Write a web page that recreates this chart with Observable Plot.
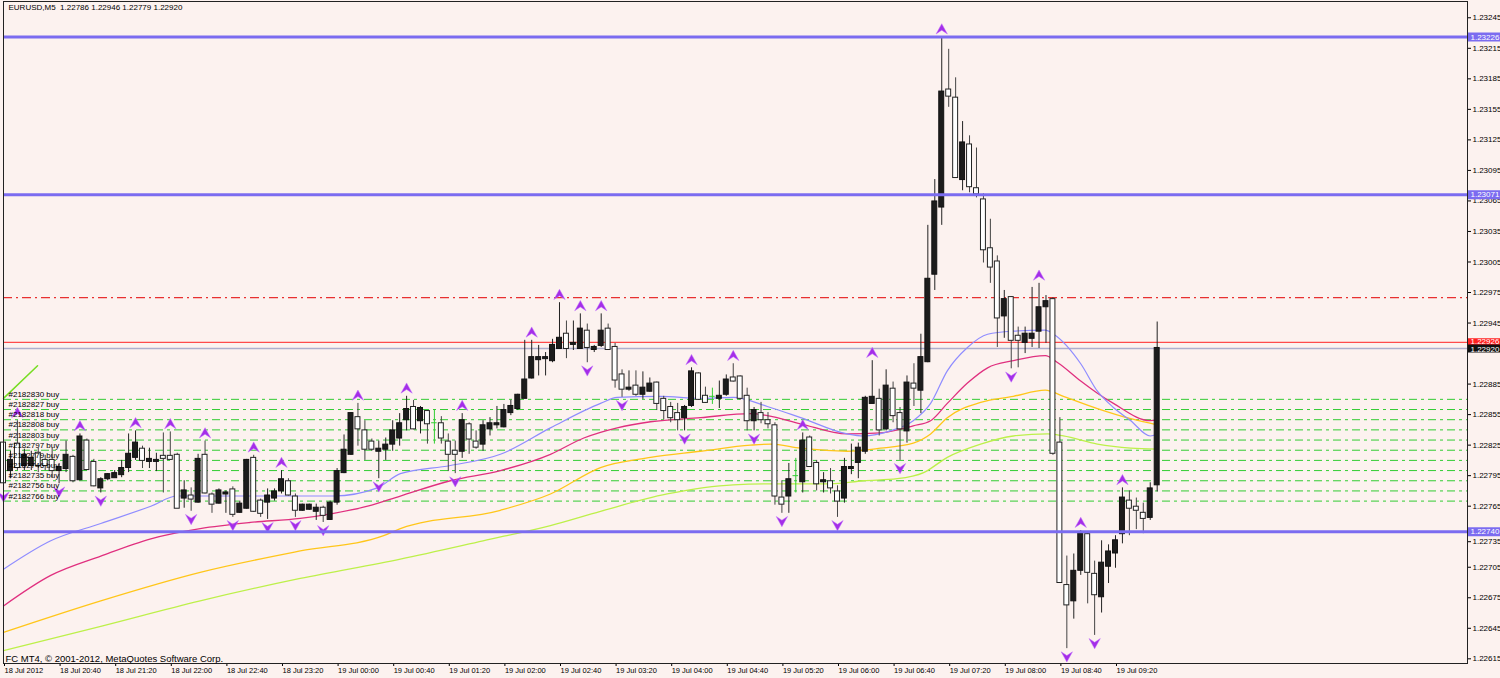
<!DOCTYPE html>
<html><head><meta charset="utf-8">
<script src="https://cdn.jsdelivr.net/npm/d3@7"></script>
<script src="https://cdn.jsdelivr.net/npm/@observablehq/plot@0.6"></script>
<style>
html,body{margin:0;padding:0;background:#fcf2ef;overflow:hidden}
#chart svg{display:block}
</style></head><body><div id="chart"></div>
<script>
// ---------- DATA (prices in points, 1 point = 0.00001) ----------
const symbolName = "EURUSD,M5";
const lastOHLC = [1.22786, 1.22946, 1.22779, 1.22920];
const caption = "FC MT4, \u00a9 2001-2012, MetaQuotes Software Corp.";

const openP = [122827,122800,122826,122805,122805,122817,122810,122810,122800,122802,122813,122791,122829,122808,122783,122792,122793,122796,122803,122813,122821,122809,122809,122814,122814,122815,122773,122775,122769,122815,122776,122768,122777,122781,122759,122763,122812,122770,122769,122773,122780,122789,122774,122761,122762,122760,122763,122752,122769,122798,122816,122852,122839,122828,122819,122821,122826,122832,122850,122862,122849,122858,122847,122846,122828,122819,122819,122845,122828,122826,122841,122845,122843,122857,122861,122871,122891,122909,122910,122908,122920,122934,122924,122920,122937,122919,122923,122939,122921,122894,122880,122883,122875,122878,122886,122870,122862,122856,122852,122864,122895,122873,122873,122871,122875,122891,122892,122873,122849,122856,122849,122844,122773,122775,122795,122789,122832,122807,122789,122789,122779,122773,122802,122808,122819,122866,122870,122841,122880,122856,122839,122885,122879,122907,122993,123059,123174,123166,123086,123120,123077,123066,123018,123005,122952,122970,122932,122926,122930,122937,122961,122968,122827,122687,122672,122702,122737,122698,122676,122706,122719,122738,122770,122764,122758,122754,122786];
const highP = [122831,122819,122849,122821,122819,122822,122815,122822,122807,122829,122815,122836,122831,122811,122793,122797,122800,122810,122836,122839,122824,122822,122817,122837,122838,122817,122790,122783,122816,122829,122778,122782,122780,122784,122770,122811,122815,122772,122782,122782,122800,122792,122777,122767,122767,122767,122765,122770,122802,122835,122857,122866,122849,122831,122829,122832,122849,122856,122873,122869,122863,122859,122860,122853,122836,122829,122856,122847,122839,122849,122852,122863,122865,122869,122875,122928,122928,122923,122916,122929,122965,122947,122947,122954,122944,122923,122954,122944,122925,122899,122898,122898,122897,122891,122887,122873,122867,122866,122864,122901,122896,122882,122881,122888,122894,122905,122893,122881,122862,122867,122857,122847,122790,122807,122812,122837,122834,122810,122798,122802,122785,122812,122826,122827,122873,122908,122880,122899,122887,122862,122893,122905,122934,123041,123086,123226,123214,123186,123143,123129,123117,123072,123047,123011,122977,122971,122941,122941,122980,122984,122972,122970,122852,122716,122718,122741,122738,122711,122731,122727,122736,122783,122780,122773,122768,122788,122946];
const lowP = [122782,122792,122800,122800,122800,122798,122800,122793,122787,122798,122788,122790,122800,122784,122778,122790,122793,122793,122798,122810,122802,122802,122799,122778,122810,122763,122763,122760,122768,122777,122758,122767,122758,122754,122758,122762,122759,122754,122752,122770,122777,122775,122754,122760,122761,122751,122749,122751,122766,122797,122815,122824,122810,122819,122792,122810,122819,122824,122839,122840,122836,122826,122826,122826,122799,122797,122812,122816,122821,122819,122834,122841,122842,122854,122859,122871,122890,122893,122893,122906,122920,122910,122918,122920,122906,122916,122921,122918,122881,122872,122878,122873,122870,122877,122859,122850,122847,122839,122839,122862,122869,122866,122865,122861,122873,122887,122869,122839,122839,122846,122841,122766,122758,122758,122778,122778,122803,122780,122778,122777,122754,122768,122796,122792,122816,122866,122834,122839,122847,122810,122827,122863,122856,122906,122977,123041,123157,123088,123075,123073,123068,123004,122984,122921,122930,122900,122901,122915,122921,122920,122925,122815,122689,122625,122654,122697,122669,122638,122660,122689,122704,122728,122736,122742,122738,122751,122779];
const closeP = [122788,122810,122803,122815,122812,122805,122805,122800,122803,122815,122790,122833,122801,122785,122791,122796,122797,122802,122816,122827,122810,122811,122810,122812,122811,122763,122780,122772,122811,122778,122767,122780,122778,122757,122767,122810,122760,122758,122775,122779,122791,122776,122761,122766,122766,122763,122756,122768,122799,122820,122856,122841,122821,122821,122821,122825,122839,122846,122860,122841,122861,122846,122847,122832,122816,122816,122849,122831,122823,122844,122846,122846,122859,122863,122874,122889,122911,122911,122911,122923,122930,122920,122925,122939,122921,122921,122937,122919,122889,122880,122881,122875,122881,122885,122866,122859,122852,122850,122862,122897,122870,122867,122873,122873,122889,122888,122871,122849,122859,122850,122846,122775,122767,122791,122795,122829,122804,122787,122790,122783,122770,122803,122803,122822,122871,122872,122840,122883,122854,122841,122886,122881,122911,122988,123064,123172,123168,123088,123122,123079,123072,123017,123000,122950,122968,122928,122928,122934,122934,122960,122966,122817,122690,122668,122701,122738,122700,122678,122709,122720,122731,122773,122763,122761,122753,122782,122920];

// Bill Williams fractals (bar numbers, counted from the first visible bar)
const upFractalBars = [2,11,19,24,29,36,40,51,58,66,76,80,83,86,99,105,115,125,135,149,155,161];
const downFractalBars = [0,8,14,27,33,38,42,46,54,65,84,89,98,108,112,120,129,145,153,157];

// Moving averages (bar number, price in points)
const maBlueBars = [0,6.8,14,21.2,25,35.5,47.5,53.8,57.1,64.3,71.5,78.7,85.9,88.3,94.5,100.3,105,109.9,114.7,121.4,123.7,127.6,130.9,133.4,135.8,138.7,141.6,145.3,149.9,151.1,155,157.4,159.7,162.2,165,166];
const maBlueP = [122703,122731,122748,122765,122775,122775,122775,122783,122797,122805,122816,122842,122866,122872,122873,122871,122872,122863,122852,122836,122834,122839,122849,122866,122898,122921,122934,122937,122938,122934,122905,122878,122862,122849,122834,122836];
const maPinkBars = [0,6.8,14,21.2,28.3,35.5,42.7,47.5,52.4,57.1,64.3,71.5,78.7,83.5,88.3,93.1,100.3,107.5,109.9,114.7,121.4,126.2,130.9,133.4,135.8,138.7,141.6,145.3,149.9,151.7,155,157.4,159.7,165,166];
const maPinkP = [122667,122697,122716,122733,122743,122749,122753,122758,122765,122775,122790,122800,122816,122832,122842,122848,122852,122856,122854,122846,122836,122837,122844,122849,122866,122886,122901,122908,122913,122906,122888,122876,122866,122849,122850];
const maGoldBars = [0,14,28.3,42.7,54.7,57.1,71.5,78.7,85.9,93.1,100.3,107.5,110.4,114.7,121.4,126.2,130.9,133.4,135.8,140.6,145.3,149.9,152.5,157.4,162.2,166];
const maGoldP = [122641,122672,122700,122721,122736,122743,122761,122777,122803,122813,122819,122825,122826,122822,122819,122822,122827,122836,122852,122867,122873,122879,122873,122861,122851,122845];
const maLimeBars = [0,14,28.3,42.7,57.1,69,78.7,85.9,95.5,105,111.8,119,123.7,128.6,132.4,135.8,140.6,145.3,150.2,152.5,157.4,162.2,166];
const maLimeP = [122623,122647,122672,122694,122713,122731,122746,122760,122777,122786,122787,122787,122790,122792,122798,122813,122826,122834,122836,122834,122826,122822,122821];

// horizontal levels
const blueLevels = [1.23226, 1.23071, 1.22740];
const askPrice = 1.22926;
const bidPrice = 1.22920;
const redLevel = 1.22970;
const orderPrices = [1.22870,1.22860,1.22850,1.22840,1.22830,1.22820,1.22810,1.22800,1.22790,1.22780,1.22770];
const orderLabels = ["#2182830 buy","#2182827 buy","#2182818 buy","#2182808 buy","#2182803 buy","#2182797 buy","#2182779 buy","#2182746 buy","#2182735 buy","#2182756 buy","#2182766 buy"];
const trendBars = [0, 4.9];
const trendP = [1.22871, 1.22903];

// axes (1.22915 is hidden under the bid box in the reference; 1.22735 peeks out below the 1.22740 box)
const yTicks = [1.23245,1.23215,1.23185,1.23155,1.23125,1.23095,1.23065,1.23035,1.23005,1.22975,1.22945,1.22885,1.22855,1.22825,1.22795,1.22765,1.22705,1.22675,1.22645,1.22615];
const yTickUnderBox = [1.22735];
const xTickBars = [0,8,16,24,32,40,48,56,64,72,80,88,96,104,112,120,128,136,144,152,160];
const xTickLabels = ["18 Jul 2012","18 Jul 20:40","18 Jul 21:20","18 Jul 22:00","18 Jul 22:40","18 Jul 23:20","19 Jul 00:00","19 Jul 00:40","19 Jul 01:20","19 Jul 02:00","19 Jul 02:40","19 Jul 03:20","19 Jul 04:00","19 Jul 04:40","19 Jul 05:20","19 Jul 06:00","19 Jul 06:40","19 Jul 07:20","19 Jul 08:00","19 Jul 08:40","19 Jul 09:20"];

// ---------- BUILD ----------
const bars = openP.map((o, i) => ({i, open: o/1e5, high: highP[i]/1e5, low: lowP[i]/1e5, close: closeP[i]/1e5}));
const bull = bars.filter(d => d.close > d.open);
const bear = bars.filter(d => d.close < d.open);
const doji = bars.filter(d => d.close === d.open);
const upF = upFractalBars.map(i => bars[i]);
const dnF = downFractalBars.map(i => bars[i]);
const ma = (b, p) => b.map((x, k) => ({i: x, p: p[k]/1e5}));
const orders = orderPrices.map((p, k) => ({p, label: orderLabels[k]}));
const trend = trendBars.map((x, k) => ({i: x, p: trendP[k]}));
const xLabel = new Map(xTickBars.map((b, k) => [b, xTickLabels[k]]));
const header = `${symbolName}  ${lastOHLC.map(v => v.toFixed(5)).join(" ")}`;

const X_MAX = 210.65;      // right edge of the price area, in bars
const X_BOX = X_MAX + 5;   // price label boxes extend to the window edge

const arrowUp = {draw(ctx, size){const s=Math.sqrt(size/Math.PI);ctx.moveTo(0,-s);ctx.lineTo(s*1.05,s*0.9);ctx.lineTo(0,s*0.2);ctx.lineTo(-s*1.05,s*0.9);ctx.closePath();}};
const arrowDown = {draw(ctx, size){const s=Math.sqrt(size/Math.PI);ctx.moveTo(0,s);ctx.lineTo(s*1.05,-s*0.9);ctx.lineTo(0,-s*0.2);ctx.lineTo(-s*1.05,-s*0.9);ctx.closePath();}};

const FONT = 8;
const chart = Plot.plot({
  width: 1500, height: 678,
  marginLeft: 3, marginRight: 33, marginTop: 1, marginBottom: 15,
  x: {domain: [0, X_MAX]},
  y: {domain: [1.226104, 1.232610]},
  style: {background: "#fcf2ef", fontFamily: "'Liberation Sans', Arial, sans-serif", fontSize: "8px", color: "#000"},
  marks: [
    // axes
    Plot.axisY({anchor: "right", ticks: yTicks, tickFormat: d3.format(".5f"), tickSize: 3, tickPadding: 2, fontSize: FONT, label: null, stroke: "#000"}),
    Plot.axisY({anchor: "right", ticks: yTickUnderBox, tickFormat: d3.format(".5f"), tickSize: 3, tickPadding: 2, fontSize: FONT, label: null, stroke: "#000", dy: 5}),
    Plot.axisX({anchor: "bottom", ticks: xTickBars, tickFormat: d => xLabel.get(d), tickSize: 3, tickPadding: 1, textAnchor: "start", dx: 1, fontSize: 7.5, label: null, stroke: "#000"}),
    // order lines
    Plot.ruleY(orders, {y: "p", stroke: "#33cc33", strokeWidth: 1, strokeDasharray: "8,4,3,4"}),
    Plot.ruleY([redLevel], {stroke: "#e83030", strokeWidth: 1.2, strokeDasharray: "9,4,2,4"}),
    Plot.ruleY([bidPrice], {stroke: "#aeaecc", strokeWidth: 1.5}),
    Plot.ruleY([askPrice], {stroke: "#ff4a4a", strokeWidth: 1.2}),
    // trend line
    Plot.line(trend, {x: "i", y: "p", stroke: "#77dd22", strokeWidth: 1.5}),
    // moving averages
    Plot.line(ma(maLimeBars, maLimeP), {x: "i", y: "p", stroke: "#bdf04a", strokeWidth: 1.3, curve: "monotone-x"}),
    Plot.line(ma(maGoldBars, maGoldP), {x: "i", y: "p", stroke: "#ffc61a", strokeWidth: 1.3, curve: "monotone-x"}),
    Plot.line(ma(maPinkBars, maPinkP), {x: "i", y: "p", stroke: "#e0307f", strokeWidth: 1.3, curve: "monotone-x"}),
    Plot.line(ma(maBlueBars, maBlueP), {x: "i", y: "p", stroke: "#8f8cff", strokeWidth: 1.2, curve: "monotone-x"}),
    // candles
    Plot.ruleX(bull, {x: "i", y1: "low", y2: "high", stroke: "#222", strokeWidth: 1}),
    Plot.ruleX(bear, {x: "i", y1: "low", y2: "high", stroke: "#444", strokeWidth: 1}),
    Plot.ruleX(doji, {x: "i", y1: "low", y2: "high", stroke: "#33cc33", strokeWidth: 1}),
    Plot.ruleY(doji, {y: "open", x1: d => d.i - 0.4, x2: d => d.i + 0.4, stroke: "#33cc33"}),
    Plot.rect(bear, {x1: d => d.i - 0.5, x2: d => d.i + 0.5, y1: "open", y2: "close", insetLeft: 1, insetRight: 1, insetTop: -0.5, insetBottom: -0.5, fill: "#ffffff", stroke: "#222", strokeWidth: 1}),
    Plot.rect(bull, {x1: d => d.i - 0.5, x2: d => d.i + 0.5, y1: "open", y2: "close", insetLeft: 1, insetRight: 1, insetTop: -0.5, insetBottom: -0.5, fill: "#1c1c1c", stroke: "#111", strokeWidth: 1}),
    // fractals
    Plot.dot(upF, {x: "i", y: "high", dy: -8, symbol: arrowUp, r: 5.4, fill: "#a42ee8", stroke: "#c070ff", strokeWidth: 0.5}),
    Plot.dot(dnF, {x: "i", y: "low", dy: 8, symbol: arrowDown, r: 5.4, fill: "#a42ee8", stroke: "#c070ff", strokeWidth: 0.5}),
    // support / resistance
    Plot.ruleY(blueLevels, {stroke: "#7b6cf0", strokeWidth: 3}),
    // order labels
    Plot.text(orders, {y: "p", text: "label", frameAnchor: "left", dx: 5, dy: -5, textAnchor: "start", fontSize: FONT, fill: "#000"}),
    // header & caption
    Plot.text([header], {frameAnchor: "top-left", dx: 5, dy: 3, lineAnchor: "top", textAnchor: "start", fontSize: 8, fill: "#000"}),
    Plot.text([caption], {frameAnchor: "bottom-left", dx: 2, dy: -2, lineAnchor: "bottom", textAnchor: "start", fontSize: 9.5, fill: "#000"}),
    // price boxes on the right axis
    Plot.ruleY(blueLevels, {y: d => d, x1: X_MAX, x2: X_BOX, stroke: "#7b6cf0", strokeWidth: 9}),
    Plot.text(blueLevels, {y: d => d, x: X_MAX, dx: 3, text: d => d.toFixed(5), textAnchor: "start", fill: "#fff", fontSize: FONT}),
    Plot.ruleY([askPrice], {y: d => d, x1: X_MAX, x2: X_BOX, stroke: "#ff2020", strokeWidth: 8}),
    Plot.text([askPrice], {y: d => d, x: X_MAX, dx: 3, dy: -1, text: d => d.toFixed(5), textAnchor: "start", fill: "#fff", fontSize: FONT}),
    Plot.ruleY([bidPrice], {y: d => d, x1: X_MAX, x2: X_BOX, stroke: "#111", strokeWidth: 8}),
    Plot.text([bidPrice], {y: d => d, x: X_MAX, dx: 3, dy: 1, text: d => d.toFixed(5), textAnchor: "start", fill: "#fff", fontSize: FONT}),
    Plot.frame({stroke: "#222"})
  ]
});
document.getElementById("chart").append(chart);
</script></body></html>
